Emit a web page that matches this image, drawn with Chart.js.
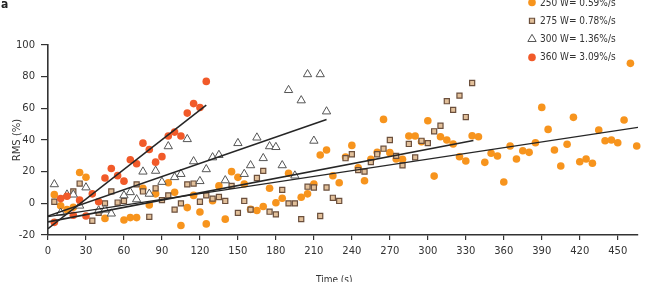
<!DOCTYPE html>
<html>
<head>
<meta charset="utf-8">
<script src="https://cdn.jsdelivr.net/npm/chart.js@4/dist/chart.umd.min.js"></script>
<style>
  html, body { margin: 0; padding: 0; background: #fff; }
  #wrap { position: relative; width: 663px; height: 282px; overflow: hidden; }
  #c { position: absolute; left: 0; top: 0; }
  .lbl { position: absolute; font-family: 'DejaVu Sans', sans-serif; font-stretch: condensed; color: #333; white-space: nowrap; }
</style>
</head>
<body>
<div id="wrap">
  <canvas id="c" width="663" height="282"></canvas>
  <div class="lbl" style="left:1px; top:-3px; font-size:12px; font-weight:bold; color:#222;">a</div>
  <div class="lbl" style="left:316px; top:274px; font-size:10px;">Time (s)</div>
</div>
<script>
// ---- Data ----
const xTicks = [0, 30, 60, 90, 120, 150, 180, 210, 240, 270, 300, 330, 360, 390, 420, 450];
const yTicks = [-20, 0, 20, 40, 60, 80, 100];

const seriesNames = ['250 W= 0.59%/s', '275 W= 0.78%/s', '300 W= 1.36%/s', '360 W= 3.09%/s'];

const t250 = [5, 10, 15, 20, 25, 30, 45, 60, 65, 70, 75, 80, 85,
  95, 100, 105, 110, 115, 120, 125, 130, 135, 140, 145, 150, 155, 160, 165, 170, 175, 180, 185, 190,
  200, 205, 210, 215, 220, 225, 230, 235, 240, 245,
  250, 255, 260, 265, 270, 275, 280, 285, 290, 295,
  300, 305, 310, 315, 320, 325, 330, 335, 340, 345,
  350, 355, 360, 365, 370, 375, 380, 385, 390, 395,
  400, 405, 410, 415, 420, 425, 430, 435, 440, 445,
  450, 455, 460, 465];
const rms250 = [5.5, -1.5, -4, -2.5, 19.5, 16.5, -9.5, -10.5, -9, -9, 9.5, -1, 6,
  13, 7, -14, -2.7, 5, -5.5, -13, 1.6, 11, -10, 20, 16.4, 12.2, -3.8, -4.5, -2, 9.5, 0.4, 3.2, 19,
  3.8, 6, 12.2, 30.5, 33.7, 17.4, 13, 29.2, 36.6, 22.4,
  14.3, 27.8, 32.2, 53, 32, 28, 27.8, 42.5, 42.5, 38.9,
  52.2, 17.2, 42.1, 40, 37.5, 29.4, 26.7, 42.7, 42.1, 25.9,
  31.6, 29.9, 13.5, 36.2, 28, 33.2, 32.2, 38.3, 60.6, 46.7,
  33.7, 23.6, 37.3, 54.3, 26.3, 28, 25.3, 46.3, 39.5, 40,
  38.3, 52.6, 88.4, 36.2];

const t275 = [5, 20, 25, 35, 40, 45, 50, 55, 60,
  70, 75, 80, 85, 90, 95, 100, 105, 110, 115,
  120, 125, 130, 135, 140, 145, 150, 155, 160, 165,
  170, 175, 180, 185, 190, 195, 200, 205, 210, 215,
  220, 225, 230, 235, 240, 245, 250, 255, 260, 265,
  270, 275, 280, 285, 290, 295, 300, 305, 310, 315,
  320, 325, 330, 335];
const rms275 = [1, 7.5, 12.5, -11, -6, 0, 7.5, 0.5, 1.5,
  12, 7.5, -8.5, 9.5, 2, 5, -4, 0, 12, 12.5,
  1, 5, 3, 4, 1.5, 11, -6, 1.5, -4, 16,
  20.5, -5.3, -7, 8.5, 0, 0, -10, 10.5, 10, -8,
  10, 3.5, 1.5, 28.5, 31, 21, 20, 26, 31, 34.5,
  40, 30, 24, 37.5, 29, 39.5, 38, 45.5, 49, 64.5,
  59, 68, 54.5, 76];

const t300 = [5, 10, 15, 20, 25, 30, 40, 45, 50,
  60, 65, 70, 75, 80, 85, 90, 95, 100, 105, 110, 115, 120, 125, 130, 135, 140,
  150, 155, 160, 165, 170, 175, 180, 185, 190, 195, 200, 205, 210, 215, 220];
const rms300 = [12, -6, 5.5, 5.5, -1.5, 10, -4.5, -4, -6.5,
  5, 7, 2.5, 20, 6, 20.5, 13.5, 36, 16.5, 18.5, 40.5, 26.5, 14, 21.5, 29, 30.5, 14.5,
  38, 18.5, 24, 41.5, 28.5, 36, 35.5, 24, 71.5, 17.5, 65, 81.5, 39.5, 81.5, 58];

const t360 = [5, 10, 15, 20, 25, 30, 35, 40, 45, 50, 55, 60, 65, 70, 75, 80, 85, 90, 95, 100, 105, 110, 115, 120, 125];
const rms360 = [-12, 3, 4.5, -7.5, 2, -8, 6, 1, 16, 22, 17.5, 14, 27.5, 25, 38, 34, 26, 29.5, 42.5, 45, 42.5, 57, 63, 60.5, 77];

// fitted trend lines (end points)
const fitT250 = [0, 466], fitR250 = [-8.4, 48];
const fitT275 = [0, 336], fitR275 = [-11.7, 39.7];
const fitT300 = [0, 220], fitR300 = [-8, 53];
const fitT360 = [0, 125], fitR360 = [-16, 62];

// ---- build ----
const pts = (xs, ys) => xs.map((x, i) => ({ x: x, y: ys[i] }));
const FAMILY = "'DejaVu Sans', sans-serif";
const FSTYLE = 'normal condensed';

const styles = [
  { pointStyle: 'circle', radius: 3.8, bg: '#f7941d', border: '#f7941d', bw: 0 },
  { pointStyle: 'rect', radius: 3.6, bg: '#e2c09a', border: '#6b4f3c', bw: 1.2 },
  { pointStyle: 'triangle', radius: 4.8, bg: '#ffffff', border: '#555555', bw: 1 },
  { pointStyle: 'circle', radius: 3.8, bg: '#f15a29', border: '#f15a29', bw: 0 }
];

function scatterDs(label, data, s) {
  return {
    type: 'scatter', label: label, data: data, order: 2, clip: false,
    pointStyle: s.pointStyle, pointRadius: s.radius, pointHoverRadius: s.radius,
    backgroundColor: s.bg, borderColor: s.border, borderWidth: s.bw
  };
}
function lineDs(data, w) {
  return {
    type: 'line', label: '', data: data, order: 0, borderColor: '#262626', borderWidth: w,
    pointRadius: 0, fill: false, tension: 0
  };
}

const datasets = [
  lineDs(pts(fitT250, fitR250), 1.2),
  lineDs(pts(fitT275, fitR275), 1.7),
  lineDs(pts(fitT300, fitR300), 1.6),
  lineDs(pts(fitT360, fitR360), 1.6),
  scatterDs(seriesNames[3], pts(t360, rms360), styles[3]),
  scatterDs(seriesNames[2], pts(t300, rms300), styles[2]),
  scatterDs(seriesNames[1], pts(t275, rms275), styles[1]),
  scatterDs(seriesNames[0], pts(t250, rms250), styles[0])
];

function drawMarker(ctx, s, x, y) {
  ctx.save();
  ctx.fillStyle = s.bg; ctx.strokeStyle = s.border; ctx.lineWidth = s.bw;
  ctx.beginPath();
  if (s.pointStyle === 'circle') {
    ctx.arc(x, y, s.radius, 0, Math.PI * 2);
  } else if (s.pointStyle === 'rect') {
    const h = s.radius * Math.SQRT1_2;
    ctx.rect(x - h, y - h, 2 * h, 2 * h);
  } else {
    const r = s.radius;
    ctx.moveTo(x, y - r);
    ctx.lineTo(x + r * 0.866, y + r * 0.5);
    ctx.lineTo(x - r * 0.866, y + r * 0.5);
    ctx.closePath();
  }
  ctx.fill();
  if (s.bw > 0) ctx.stroke();
  ctx.restore();
}

const legendPlugin = {
  id: 'customLegend',
  afterDraw(chart) {
    const ctx = chart.ctx;
    const rows = [2.5, 20.8, 39.1, 57.4];
    ctx.save();
    ctx.font = FSTYLE + ' 10px ' + FAMILY;
    ctx.fillStyle = '#333';
    ctx.textBaseline = 'middle';
    ctx.textAlign = 'left';
    for (let i = 0; i < 4; i++) {
      drawMarker(ctx, styles[i], 532, rows[i]);
      ctx.fillText(seriesNames[i], 540, rows[i] + 0.5);
    }
    ctx.restore();
  }
};

const tickFont = { family: FAMILY, size: 10, style: FSTYLE };

new Chart(document.getElementById('c'), {
  type: 'scatter',
  data: { datasets: datasets },
  options: {
    responsive: false,
    animation: false,
    devicePixelRatio: 1,
    layout: { padding: { left: 0, top: 45, right: 25, bottom: 0 } },
    plugins: { legend: { display: false }, tooltip: { enabled: false } },
    scales: {
      x: {
        type: 'linear', min: 0, max: 466,
        afterBuildTicks: (sc) => { sc.ticks = xTicks.map(v => ({ value: v })); },
        afterFit: (sc) => { sc.height = 47; },
        grid: { drawOnChartArea: false, drawTicks: true, tickLength: 5, color: '#333', lineWidth: 1.2 },
        border: { display: true, color: '#333', width: 1.6 },
        ticks: { color: '#333', font: tickFont, padding: 5, maxRotation: 0, autoSkip: false }
      },
      y: {
        type: 'linear', min: -20, max: 100,
        afterBuildTicks: (sc) => { sc.ticks = yTicks.map(v => ({ value: v })); },
        afterFit: (sc) => { sc.width = 48; },
        grid: { drawOnChartArea: false, drawTicks: true, tickLength: 7, color: '#333', lineWidth: 1.2 },
        border: { display: true, color: '#333', width: 1.6 },
        ticks: { color: '#333', font: tickFont, padding: 6 },
        title: { display: true, text: 'RMS (%)', color: '#333', font: tickFont, padding: { top: 11, bottom: 0 } }
      }
    }
  },
  plugins: [legendPlugin]
});
</script>
</body>
</html>
